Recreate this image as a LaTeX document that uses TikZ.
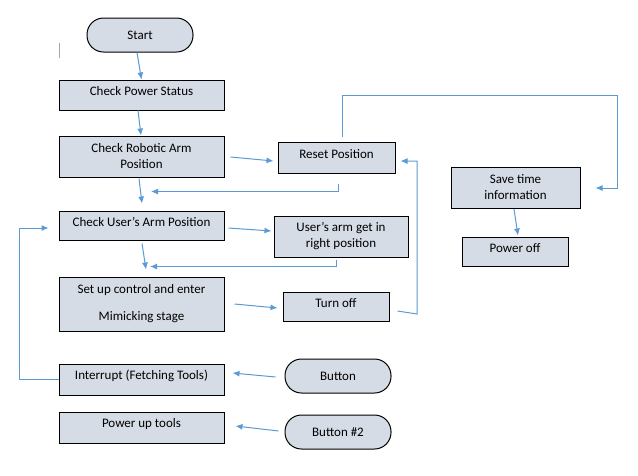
\documentclass[tikz,border=0pt]{standalone}
\usepackage{fontspec}
\setmainfont{Carlito}
\usetikzlibrary{calc,arrows.meta}
\definecolor{boxfill}{HTML}{D6DCE5}
\definecolor{arrowblue}{HTML}{5B9BD5}
\newcommand{\upt}[1]{\raisebox{3.5pt}[\height][\depth]{#1}}
\tikzset{
  box/.style={draw=black, line width=1pt, fill=boxfill, align=center, inner sep=0pt,
    font=\fontsize{13}{16}\selectfont},
  pill/.style={box, rounded corners=16.5pt},
  arr/.style={draw=arrowblue, line width=1pt, -{Latex[length=7pt,width=6pt]}},
}
\begin{document}
\begin{tikzpicture}[x=1pt,y=-1pt]
\useasboundingbox (0,0) rectangle (638,475);
\fill[white] (0,0) rectangle (638,475);

\node[pill, minimum width=106pt, minimum height=34pt] (start) at (140,35) {Start};
\node[box, minimum width=165pt, minimum height=30pt] (cps) at (141.5,95) {\upt{Check Power Status}};
\node[box, minimum width=165pt, minimum height=41pt] (crap) at (141.5,156.5) {Check Robotic Arm\\Position};
\node[box, minimum width=117pt, minimum height=31pt] (reset) at (336.5,157.5) {\upt{Reset Position}};
\node[box, minimum width=165pt, minimum height=29pt] (cuap) at (141.5,225.5) {\upt{Check User’s Arm Position}};
\node[box, minimum width=134pt, minimum height=41pt] (uarm) at (341,236.5) {User’s arm get in\\right position};
\node[box, minimum width=165pt, minimum height=54pt] (setup) at (141.5,304) {Set up control and enter\\[11pt]Mimicking stage};
\node[box, minimum width=106pt, minimum height=29pt] (turnoff) at (336,306.5) {\upt{Turn off}};
\node[box, minimum width=165pt, minimum height=31pt] (interrupt) at (141.5,379.5) {\upt{Interrupt (Fetching Tools)}};
\node[pill, minimum width=106pt, minimum height=34pt] (button) at (338,376) {Button};
\node[box, minimum width=165pt, minimum height=31pt] (powerup) at (141.5,427.5) {\upt{Power up tools}};
\node[pill, minimum width=106pt, minimum height=34pt] (button2) at (338,432) {Button \#2};
\node[box, minimum width=129pt, minimum height=41pt] (save) at (515.5,187.5) {Save time\\information};
\node[box, minimum width=106pt, minimum height=29pt] (poweroff) at (515,251.5) {\upt{Power off}};

\coordinate (tr) at (617,95);
\coordinate (tl) at (417,314);
\coordinate (il) at (19,379.5);

\draw[gray!70, line width=0.8pt] (59,43) -- (59,58);

\draw[arr] ($(start.south)+(-3,0)$) -- (cps.north);
\draw[arr] ($(cps.south)+(-3.5,0)$) -- ($(crap.north)+(-0.5,0)$);
\draw[arr] ($(crap.east)+(6,0.5)$) -- ($(reset.west)+(-4,3.5)$);
\draw[arr] ($(reset.north)+(5.5,-5)$) |- (tr) |- ($(save.east)+(15,0.5)$);
\draw[arr] ($(reset.south)+(2,10)$) |- ($(crap.south)+(9.5,14)$);
\draw[arr] ($(crap.south)+(-2.5,1)$) -- ($(cuap.north)+(0.5,-7)$);
\draw[arr] ($(cuap.east)+(4,2.5)$) -- ($(uarm.west)+(-2,-5.5)$);
\draw[arr] ($(uarm.south)+(-5,2)$) |- ($(setup.north)+(8.5,-10)$);
\draw[arr] ($(cuap.south)+(0.5,3)$) -- ($(setup.north)+(4.5,-7)$);
\draw[arr] ($(setup.east)+(10,0)$) -- ($(turnoff.west)+(-5,1.5)$);
\draw[arr] ($(turnoff.east)+(8,4.5)$) -- (tl) |- ($(reset.east)+(5,3.5)$);
\draw[arr] ($(button.west)+(-9,1)$) -- ($(interrupt.east)+(8,-6.5)$);
\draw[arr] (interrupt.west) -- (il) |- ($(cuap.west)+(-10,2.5)$);
\draw[arr] ($(button2.west)+(-6,-1)$) -- ($(powerup.east)+(11,-1.5)$);
\draw[arr] ($(save.south)+(-1.5,0.5)$) -- ($(poweroff.north)+(3,-1)$);
\end{tikzpicture}
\end{document}
